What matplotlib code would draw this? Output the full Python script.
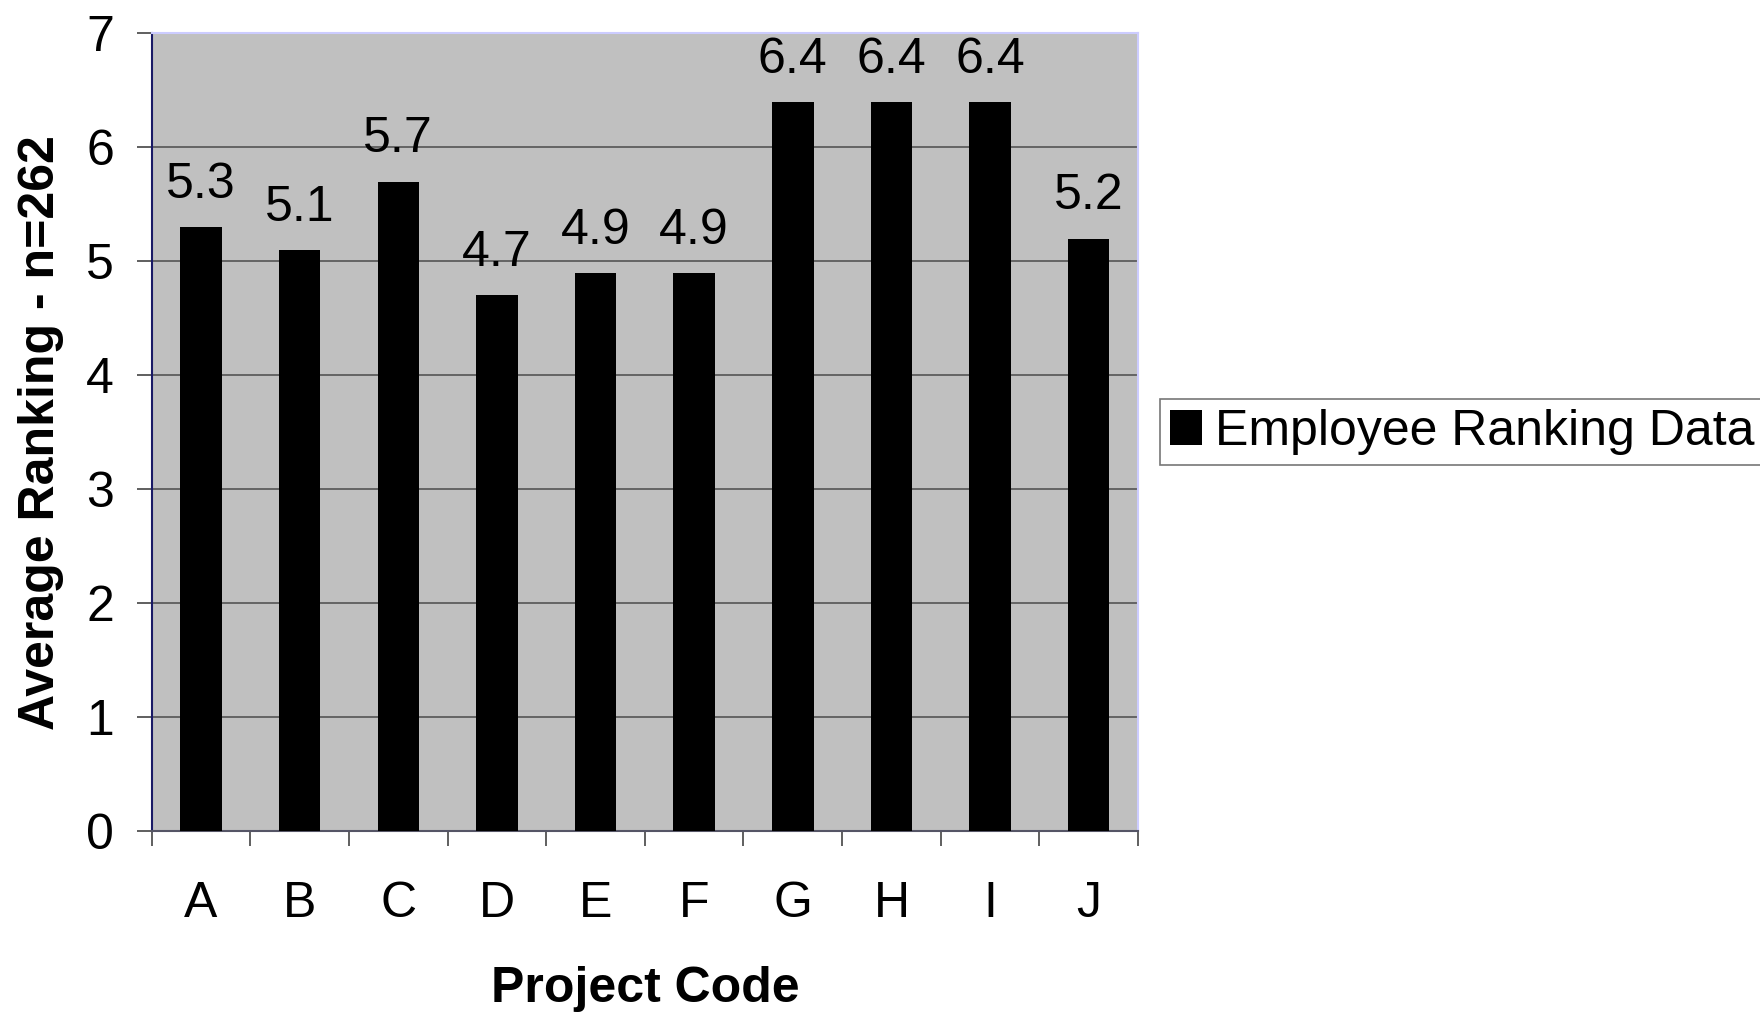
import numpy as np
import matplotlib.pyplot as plt

plt.rcParams['font.family'] = ['Liberation Sans', 'DejaVu Sans']

projects = ['A', 'B', 'C', 'D', 'E', 'F', 'G', 'H', 'I', 'J']
rankings = [5.3, 5.1, 5.7, 4.7, 4.9, 4.9, 6.4, 6.4, 6.4, 5.2]
y_ticks = [0, 1, 2, 3, 4, 5, 6, 7]

FS = 36

fig = plt.figure(figsize=(17.6, 10.13), dpi=100)
ax = fig.add_axes([0.0862, 0.1797, 0.5604, 0.7873])
ax.set_facecolor('#C0C0C0')

x = np.arange(len(projects))
ax.bar(x, rankings, width=0.42, color='black', label='Employee Ranking Data', zorder=3)

# value labels above each bar
for xi, val in zip(x, rankings):
    ax.annotate(f'{val}', (xi, val), xytext=(0, 21), textcoords='offset points',
                ha='center', va='baseline', fontsize=FS)

ax.set_xlim(-0.5, len(projects) - 0.5)
ax.set_ylim(0, 7)
ax.set_yticks(y_ticks)
ax.yaxis.grid(True, color='#555555', linewidth=1.2, zorder=1)

# ticks sit on the category boundaries, labels in the middle
ax.set_xticks(np.arange(-0.5, len(projects), 1.0))
ax.set_xticklabels([])
ax.set_xticks(x, minor=True)
ax.set_xticklabels(projects, minor=True)
ax.tick_params(axis='x', which='major', length=11, width=1.2, color='#444444')
ax.tick_params(axis='x', which='minor', length=0, pad=36, labelsize=FS)
ax.tick_params(axis='y', length=11, width=1.2, color='#444444', pad=16, labelsize=FS)

ax.spines['left'].set_color('#1a1a66')
ax.spines['bottom'].set_color('#555566')
ax.spines['top'].set_color('#ccccff')
ax.spines['right'].set_color('#ccccff')
for s in ax.spines.values():
    s.set_linewidth(1.5)

ax.set_xlabel('Project Code', fontsize=FS, fontweight='bold', labelpad=28)
ax.set_ylabel('Average Ranking - n=262', fontsize=FS, fontweight='bold', labelpad=16)

leg = ax.legend(loc='center left', bbox_to_anchor=(1.022, 0.5), fontsize=FS,
                frameon=True, fancybox=False, borderpad=0.2, handlelength=0.65,
                handleheight=0.7, handletextpad=0.25, borderaxespad=0)
leg.get_frame().set_edgecolor('#555555')
leg.get_frame().set_linewidth(1.2)

fig.savefig('out.png', dpi=100)
